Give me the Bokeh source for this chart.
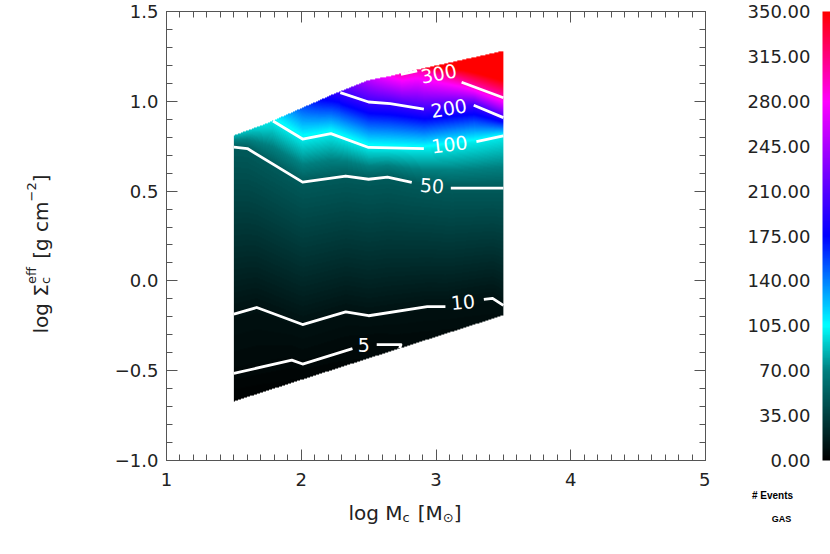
import numpy as np
from bokeh.plotting import figure
from bokeh.models import (Range1d, SingleIntervalTicker, LinearAxis,
                          LinearColorMapper, CustomJSTickFormatter,
                          Label, ColumnDataSource)
from bokeh.layouts import row, column
from bokeh.embed import file_html
from bokeh.resources import INLINE
from bokeh.core.properties import value

# ---------------- data ----------------
# outline of the sampled region
lower_x = [1.5, 3.5]
lower_y = [-0.67, -0.19]
upper_x = [1.5, 1.74, 2.24, 2.49, 2.66, 2.89, 3.5]
upper_y = [0.81, 0.875, 1.04, 1.115, 1.14, 1.18, 1.28]

# values of the map along the lower / upper edge
bottom_x = [1.5, 2.74, 3.5]
bottom_v = [1.0, 5.0, 8.0]
top_x = [1.5, 1.79, 2.0, 2.29, 2.5, 2.74, 3.0, 3.5]
top_v = [85.0, 100.0, 150.0, 200.0, 250.0, 300.0, 360.0, 440.0]

# contour lines (pieces, broken where the labels sit)
levels = [5, 10, 50, 100, 200, 300]
c5_x = [[1.5, 1.93, 2.01, 2.38], [2.56, 2.74, 2.73]]
c5_y = [[-0.515, -0.441, -0.463, -0.377], [-0.355, -0.355, -0.375]]
c10_x = [[1.5, 1.67, 2.01, 2.33, 2.5, 2.935, 3.07], [3.355, 3.42, 3.5]]
c10_y = [[-0.185, -0.148, -0.243, -0.172, -0.194, -0.143, -0.143], [-0.103, -0.097, -0.136]]
c50_x = [[1.5, 1.6, 2.01, 2.33, 2.5, 2.64, 2.82], [3.11, 3.5]]
c50_y = [[0.745, 0.737, 0.55, 0.584, 0.566, 0.578, 0.548], [0.517, 0.517]]
c100_x = [[1.79, 2.01, 2.22, 2.5, 2.91], [3.3, 3.5]]
c100_y = [[0.89, 0.79, 0.82, 0.743, 0.736], [0.776, 0.807]]
c200_x = [[2.29, 2.5, 2.66, 2.91], [3.28, 3.5]]
c200_y = [[1.048, 0.996, 0.987, 0.956], [0.978, 0.909]]
c300_x = [[2.74, 2.86], [3.19, 3.5]]
c300_y = [[1.15, 1.17], [1.106, 1.02]]
contour_x = {5: c5_x, 10: c10_x, 50: c50_x, 100: c100_x, 200: c200_x, 300: c300_x}
contour_y = {5: c5_y, 10: c10_y, 50: c50_y, 100: c100_y, 200: c200_y, 300: c300_y}

label_text = ["300", "200", "100", "50", "10", "5"]
label_x = [3.02, 3.095, 3.10, 2.97, 3.20, 2.464]
label_y = [1.155, 0.962, 0.760, 0.530, -0.118, -0.358]
label_angle_deg = [11, 9, 7, -4, 5, 0]

cbar_ticks = [0, 35, 70, 105, 140, 175, 210, 245, 280, 315, 350]
cbar_labels = ["0.00", "35.00", "70.00", "105.00", "140.00", "175.00",
               "210.00", "245.00", "280.00", "315.00", "350.00"]

# ---------------- colour map ----------------
anchor_v = [0, 70, 105, 175, 280, 350]
anchor_rgb = [(0, 0, 0), (0, 128, 128), (0, 255, 255), (0, 0, 255), (255, 0, 255), (255, 0, 0)]
vv = np.linspace(0, 350, 256)
pal = []
for v in vv:
    r = int(round(np.interp(v, anchor_v, [c[0] for c in anchor_rgb])))
    g = int(round(np.interp(v, anchor_v, [c[1] for c in anchor_rgb])))
    b = int(round(np.interp(v, anchor_v, [c[2] for c in anchor_rgb])))
    pal.append("#%02x%02x%02x" % (r, g, b))
mapper = LinearColorMapper(palette=pal, low=0, high=350, nan_color="rgba(0, 0, 0, 0)",
                           high_color=pal[-1], low_color=pal[0])

# ---------------- field for the filled map (built from the contours) ----------------
IMG_X0, IMG_X1, IMG_Y0, IMG_Y1 = 1.5, 3.5, -0.7, 1.3
NX, NY = 540, 720


def build_field():
    xs = IMG_X0 + (np.arange(NX) + 0.5) * (IMG_X1 - IMG_X0) / NX
    ys = IMG_Y0 + (np.arange(NY) + 0.5) * (IMG_Y1 - IMG_Y0) / NY
    Z = np.full((NY, NX), np.nan)
    flat = {}
    for L in levels:
        px = np.concatenate([np.asarray(a, float) for a in contour_x[L]])
        py = np.concatenate([np.asarray(a, float) for a in contour_y[L]])
        o = np.argsort(px, kind="stable")
        flat[L] = (px[o], py[o])
    for i, x in enumerate(xs):
        yb = np.interp(x, lower_x, lower_y)
        yt = np.interp(x, upper_x, upper_y)
        ky = [yb]
        kv = [np.interp(x, bottom_x, bottom_v)]
        for L in levels:
            px, py = flat[L]
            if px[0] <= x <= px[-1]:
                ky.append(min(max(np.interp(x, px, py), yb), yt))
                kv.append(L)
        ky.append(yt)
        kv.append(np.interp(x, top_x, top_v))
        ky = np.array(ky)
        kv = np.array(kv)
        o = np.argsort(ky, kind="stable")
        col = np.interp(ys, ky[o], kv[o])
        inside = (ys >= yb) & (ys <= yt)
        Z[inside, i] = col[inside]
    return Z


Z = build_field()

# ---------------- geometry (page pixels) ----------------
YT_W = 110                       # width of the y-title strip
MAIN_W, MAIN_H = 600, 494
MB_L, MB_R, MB_T, MB_B = 56, 5, 11, 34
BOT_H = 56
CB_W = 120
TOTAL_H = MAIN_H + BOT_H
FONT = "DejaVu Sans"
AX_COL = "#555555"
TXT_COL = "#222222"


def bare_fig(w, h, xr, yr, bl=0, br=0):
    f = figure(width=w, height=h, x_range=xr, y_range=yr,
               x_axis_location=None, y_axis_location=None, output_backend="svg",
               toolbar_location=None, min_border_left=bl, min_border_right=br,
               min_border_top=0, min_border_bottom=0)
    f.grid.visible = False
    f.outline_line_color = None
    f.background_fill_color = "white"
    f.border_fill_color = "white"
    return f


# ---------------- main figure ----------------
p = figure(x_range=Range1d(1, 5), y_range=Range1d(-1, 1.5), width=MAIN_W, height=MAIN_H,
           min_border_left=MB_L, min_border_right=MB_R, min_border_top=MB_T,
           min_border_bottom=MB_B, output_backend="svg", toolbar_location=None)
p.grid.visible = False
p.outline_line_color = None
p.background_fill_color = "white"
p.border_fill_color = "white"

p.image(image=[Z], x=IMG_X0, y=IMG_Y0, dw=IMG_X1 - IMG_X0, dh=IMG_Y1 - IMG_Y0, color_mapper=mapper)

mx, my = [], []
for L in levels:
    for a, b in zip(contour_x[L], contour_y[L]):
        mx.append(a)
        my.append(b)
p.multi_line(xs=mx, ys=my, line_color="white", line_width=2.8, line_join="round")

src = ColumnDataSource(dict(x=label_x, y=label_y, text=label_text,
                            angle=[np.deg2rad(a) for a in label_angle_deg]))
p.text(x="x", y="y", text="text", angle="angle", source=src, text_color="white",
       text_font=value(FONT), text_font_size="19px", text_align="center", text_baseline="middle")

bottom_ax = p.below[0]
left_ax = p.left[0]
bottom_ax.ticker = SingleIntervalTicker(interval=1, num_minor_ticks=10)
left_ax.ticker = SingleIntervalTicker(interval=0.5, num_minor_ticks=5)
left_ax.formatter = CustomJSTickFormatter(code="return tick.toFixed(1).replace('-', '\u2212');")

top_ax = LinearAxis(ticker=SingleIntervalTicker(interval=1, num_minor_ticks=10),
                    formatter=CustomJSTickFormatter(code="return '';"))
right_ax = LinearAxis(ticker=SingleIntervalTicker(interval=0.5, num_minor_ticks=5),
                      formatter=CustomJSTickFormatter(code="return '';"))
p.add_layout(top_ax, "above")
p.add_layout(right_ax, "right")

for ax in [bottom_ax, left_ax, top_ax, right_ax]:
    ax.axis_line_color = AX_COL
    ax.major_tick_line_color = AX_COL
    ax.minor_tick_line_color = AX_COL
    ax.major_tick_in = 11
    ax.major_tick_out = 0
    ax.minor_tick_in = 6
    ax.minor_tick_out = 0
    ax.major_label_text_font = FONT
    ax.major_label_text_font_size = "18px"
    ax.major_label_text_color = TXT_COL
for ax in [top_ax, right_ax]:
    ax.major_label_standoff = 0
bottom_ax.major_label_standoff = 12
left_ax.major_label_standoff = 8

# ---------------- axis titles (pieces with sub/superscripts) ----------------
W = {" ": .318, "l": .278, "o": .612, "g": .635, "M": .863, "c": .550, "[": .390, "]": .390,
     "e": .615, "f": .352, "m": .974, "n": .634, "\u03a3": .632, "2": .636, "\u2212": .838,
     "\u2299": .838}


def tw(s, size):
    return sum(W.get(ch, .6) for ch in s) * size


def add_pieces(fig, x, y, pieces, vertical=False):
    """x, y: start of the baseline in the text figure's pixel coordinates (y downwards).
    A group is either a gap in pixels or a list of (text, size, shift)."""
    adv = 0.0
    for group in pieces:
        if isinstance(group, (int, float)):
            adv += group
            continue
        gmax = 0.0
        for (txt, size, shift) in group:
            if not vertical:
                lx, ly, ang = x + adv, y - shift, 0.0
            else:
                lx, ly, ang = x - shift, y - adv, np.pi / 2
            fig.add_layout(Label(x=lx, y=ly, text=txt, angle=ang,
                                 text_font=FONT, text_font_size="%dpx" % size,
                                 text_color=TXT_COL, text_align="left",
                                 text_baseline="alphabetic"))
            gmax = max(gmax, tw(txt, size))
        adv += gmax


BIG, SMALL = 20, 13
GAP = 8

ytitle = bare_fig(YT_W, MAIN_H, Range1d(0, YT_W), Range1d(MAIN_H, 0))
add_pieces(ytitle, 40, 333,
           [[("log \u03a3", BIG, 0)], [("c", SMALL, -5), ("eff", SMALL, 9)], GAP,
            [("[g cm", BIG, 0)], [("\u22122", SMALL, 9)], [("]", BIG, 0)]],
           vertical=True)

# x-title strip: same side borders as the main figure so the frames line up;
# its ranges are in local pixels of the strip
xtitle = bare_fig(MAIN_W, BOT_H, Range1d(MB_L, MAIN_W - MB_R), Range1d(BOT_H, 0),
                  bl=MB_L, br=MB_R)
add_pieces(xtitle, 348 - YT_W, 512 - MAIN_H,
           [[("log M", BIG, 0)], [("c", SMALL, -5)], GAP, [("[M", BIG, 0)],
            [("\u2299", SMALL, -5)], [("]", BIG, 0)]])

# ---------------- colour bar (own strip; value scale on y) ----------------
# value v sits at page pixel 11 + (350 - v) / 350 * 449
PX_TOP, PX_BOT = MB_T, MAIN_H - MB_B
v_per_px = 350.0 / (PX_BOT - PX_TOP)
cb_y_top = 350.0 + PX_TOP * v_per_px
cb_y_bot = 350.0 - (TOTAL_H - PX_TOP) * v_per_px
x0_cb = YT_W + MAIN_W
p2 = bare_fig(CB_W, TOTAL_H, Range1d(0, CB_W), Range1d(cb_y_bot, cb_y_top))
p2.image(image=[np.array(vv).reshape(-1, 1)], x=822 - x0_cb, y=0, dw=8, dh=350,
         color_mapper=mapper)
p2.text(x=[810 - x0_cb] * len(cbar_ticks), y=cbar_ticks, text=cbar_labels,
        text_font=value(FONT), text_font_size="18px", text_color=TXT_COL,
        text_align="right", text_baseline="middle")


def cb_val(py):
    return 350.0 - (py - PX_TOP) * v_per_px


p2.add_layout(Label(x=772 - x0_cb, y=cb_val(495), text="# Events", text_font="Liberation Sans",
                    text_font_style="bold", text_font_size="10px", text_color="black",
                    text_align="center", text_baseline="middle"))
p2.add_layout(Label(x=781 - x0_cb, y=cb_val(518), text="GAS", text_font="Liberation Sans",
                    text_font_style="bold", text_font_size="9px", text_color="black",
                    text_align="center", text_baseline="middle"))

layout = row(ytitle, column(p, xtitle), p2)
open("out.html", "w").write(file_html(layout, INLINE))
